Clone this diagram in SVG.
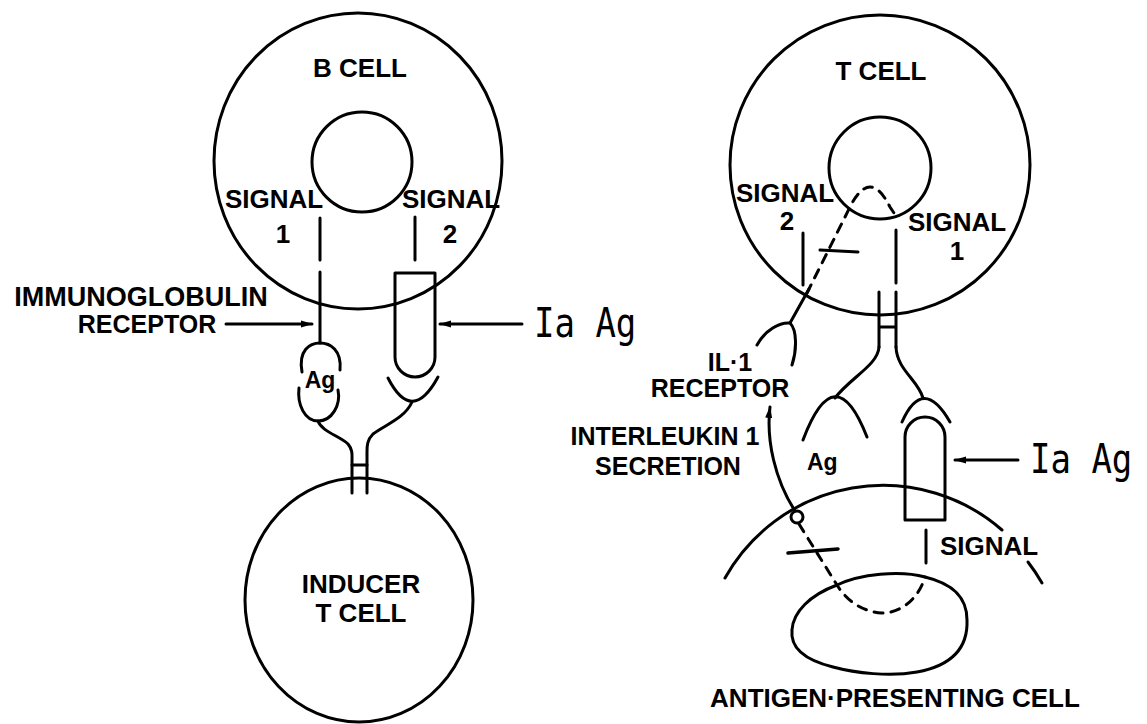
<svg xmlns="http://www.w3.org/2000/svg" width="1147" height="724" viewBox="0 0 1147 724">
<style>
.o{fill:none;stroke:#000;stroke-width:3;stroke-linecap:round;stroke-linejoin:round}
.d{fill:none;stroke:#000;stroke-width:3;stroke-linecap:round;stroke-dasharray:9 8}
.t{font-family:"Liberation Sans",Arial,sans-serif;font-weight:bold;font-size:26px;fill:#000;text-anchor:middle}
.m{font-family:"DejaVu Sans Mono","Liberation Mono",monospace;font-size:34px;fill:#000}
</style>
<defs>
<marker id="ah" markerWidth="12" markerHeight="8" refX="11" refY="4" orient="auto" markerUnits="userSpaceOnUse">
<path d="M0,0.5 L12,4 L0,7.5 Z" fill="#000"/>
</marker>
</defs>
<rect width="1147" height="724" fill="#fff"/>

<g id="b-cell">
<ellipse class="o" cx="358" cy="161" rx="144" ry="148"/>
<circle class="o" cx="362" cy="162" r="50"/>
<text class="t" x="360" y="77">B CELL</text>
<text class="t" x="274" y="208">SIGNAL</text>
<text class="t" x="283" y="243">1</text>
<text class="t" x="451" y="208">SIGNAL</text>
<text class="t" x="450" y="243">2</text>
<path class="o" d="M320,218 L320,260 M320,272 L320,343"/>
<path class="o" d="M415,217 L415,260"/>
</g>

<g id="immunoglobulin-receptor">
<path class="o" d="M302,372 C298,350 310,343 320,343 C330,343 342,350 340,370"/>
<path class="o" d="M299,388 C297,405 305,421 318,421 C332,421 341,405 338,390"/>
<text class="t" x="320" y="388" style="font-size:23px">Ag</text>
<path class="o" d="M318,421 C322,432 340,436 348,444 C353,450 352,455 352,462 L352,493"/>
<path class="o" d="M412,402 C405,418 385,425 373,434 C367,440 367,446 367,452 L367,493"/>
<path class="o" d="M352,465 L367,465"/>
<path class="o" d="M388,378 Q412,425 438,377"/>
<text class="t" x="141" y="306" style="font-size:27px">IMMUNOGLOBULIN</text>
<text class="t" x="147" y="333" style="font-size:25px">RECEPTOR</text>
</g>

<g id="ia-ag-left">
<path class="o" d="M395,273 L435,273 L435,357 A20,20 0 0 1 395,357 Z"/>
<text class="m" transform="translate(534,337) scale(1,1.2)">Ia Ag</text>
</g>

<g id="inducer-t-cell">
<ellipse class="o" cx="359" cy="600" rx="114" ry="122"/>
<text class="t" x="361" y="593">INDUCER</text>
<text class="t" x="361" y="622">T CELL</text>
</g>

<g id="t-cell">
<circle class="o" cx="880" cy="165" r="150"/>
<circle class="o" cx="880" cy="168" r="51"/>
<text class="t" x="881" y="80">T CELL</text>
<text class="t" x="785" y="202">SIGNAL</text>
<text class="t" x="787" y="230">2</text>
<text class="t" x="957" y="231">SIGNAL</text>
<text class="t" x="957" y="260">1</text>
<path class="o" d="M803,233 L803,285"/>
<path class="o" d="M896,230 L896,283"/>
<path class="d" d="M807,293 L850,207 Q870,167 890,207 L896,216"/>
<path class="o" d="M820,250 L858,252"/>
<path class="o" d="M879,292 L879,347 M896,292 L896,347 M879,327 L896,327"/>
<path class="o" d="M879,347 C878,365 850,378 835,398"/>
<path class="o" d="M803,440 Q835,355 867,437"/>
<path class="o" d="M896,347 C897,370 918,380 923,398"/>
<path class="o" d="M902,422 Q923,375 950,422"/>
<text class="t" x="807" y="470" style="font-size:23px;text-anchor:start">Ag</text>
</g>

<g id="il1-receptor">
<path class="o" d="M809,289 L790,323"/>
<path class="o" d="M757,345 C765,330 780,322 790,323 C797,330 797,350 792,365"/>
<text class="t" x="730" y="371" style="font-size:25px">IL·1</text>
<text class="t" x="720" y="397" style="font-size:25px">RECEPTOR</text>
</g>

<g id="ia-ag-right">
<path class="o" d="M905,520 L905,437 A20,20 0 0 1 945,437 L945,520 Z"/>
<text class="m" transform="translate(1030,473) scale(1,1.2)">Ia Ag</text>
</g>

<g id="antigen-presenting-cell">
<path class="o" d="M725,578 A181,181 0 0 1 1002,530"/>
<path class="o" d="M1028,562 A181,181 0 0 1 1042,583"/>
<path class="o" d="M837,585 C860,574 900,570 925,577 C950,583 967,595 967,620 C968,645 955,665 917,672 C890,677 855,673 833,667 C805,660 790,648 792,630 C793,612 810,595 837,585 Z"/>
<circle class="o" cx="797" cy="517" r="6"/>
<path class="d" d="M799,524 L837,585 C848,603 865,612 882,613 C900,613 918,600 925,577"/>
<path class="o" d="M788,553 L838,549" style="stroke-width:3.5"/>
<path class="o" d="M926,530 L926,563"/>
<text class="t" x="989" y="555">SIGNAL</text>
<text class="t" x="895" y="707">ANTIGEN·PRESENTING CELL</text>
</g>

<g id="secretion">
<text class="t" x="665" y="445" style="font-size:25px">INTERLEUKIN 1</text>
<text class="t" x="668" y="475" style="font-size:25px">SECRETION</text>
</g>

<g id="connectors">
<path class="o" d="M226,324 L312,324" marker-end="url(#ah)"/>
<path class="o" d="M522,324 L440,324" marker-end="url(#ah)"/>
<path class="o" d="M1018,460 L955,460" marker-end="url(#ah)"/>
<path class="o" d="M795,511 C775,480 766,440 770,407" marker-end="url(#ah)"/>
</g>
</svg>
